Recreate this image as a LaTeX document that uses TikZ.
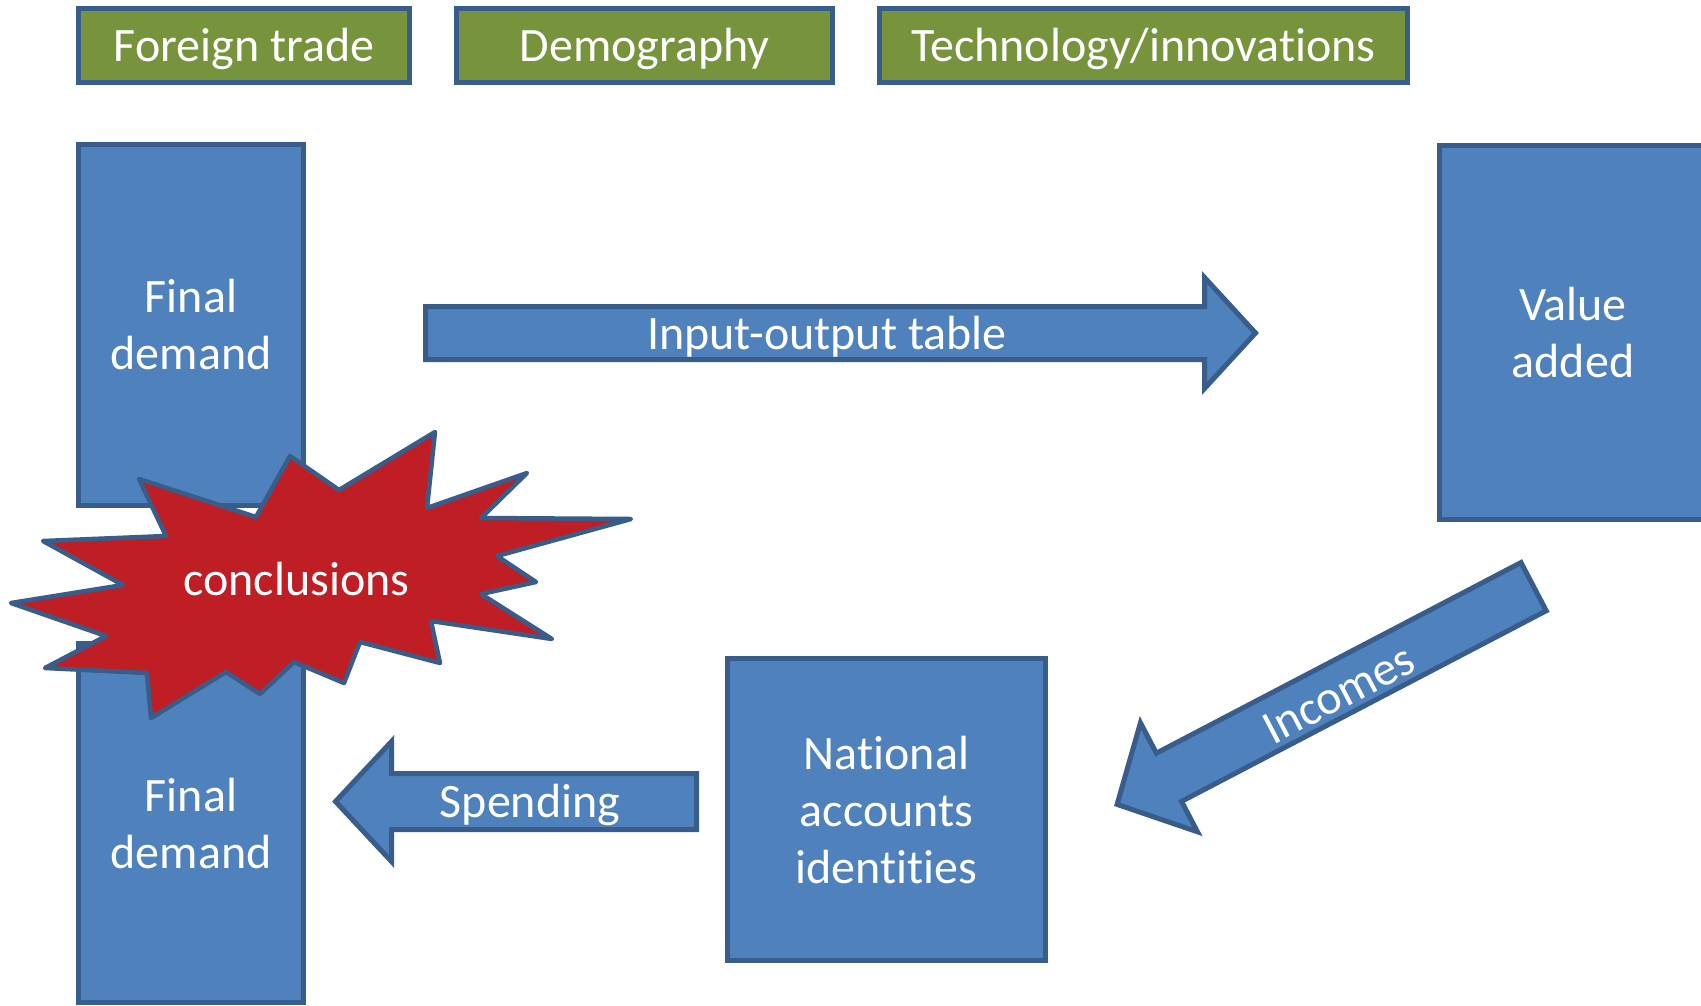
\documentclass[tikz,border=0pt]{standalone}
\usepackage{fontspec}
\setmainfont{Carlito}[Ligatures={NoCommon,NoContextual}]
\definecolor{boxblue}{RGB}{79,129,189}
\definecolor{edgeblue}{RGB}{56,93,138}
\definecolor{boxgreen}{RGB}{119,147,60}
\definecolor{burstred}{RGB}{190,30,36}
\begin{document}
\begin{tikzpicture}[x=1pt, y=-1pt, font=\fontsize{48pt}{57pt}\selectfont,
  tagbox/.style={draw=edgeblue, fill=boxgreen, text=white, line width=5pt,
    text height=32pt, text depth=0pt, inner sep=0pt},
  bluebox/.style={draw=edgeblue, fill=boxblue, text=white, line width=5pt,
    align=center, inner sep=0pt},
  bigarrow/.style={draw=edgeblue, fill=boxblue, line width=5pt, line join=miter},
  arrowtext/.style={text=white, text height=32pt, text depth=0pt, inner sep=0pt},
  burst/.style={draw=edgeblue, fill=burstred, line width=4.5pt, line join=round}]
\useasboundingbox (0,0) rectangle (1701,1005);
\fill[white] (0,0) rectangle (1701,1005);
\clip (0,0) rectangle (1701,1005);

% top tags
\node[tagbox, minimum width=331pt, minimum height=74pt] (trade) at (244,45.5) {Foreign trade};
\node[tagbox, minimum width=376pt, minimum height=74pt] (demo) at (644.5,45.5) {Demography};
\node[tagbox, minimum width=528pt, minimum height=74pt] (tech) at (1143.5,45.5) {Technology/innovations};

% blue boxes
\node[bluebox, minimum width=225pt, minimum height=361pt] (fd1) at (191,325) {Final\\demand};
\node[bluebox, minimum width=225pt, minimum height=359pt] (fd2) at (191,823) {Final\\demand};
\node[bluebox, minimum width=267pt, minimum height=374pt] (va) at (1573,332.5) {Value\\added};
\node[bluebox, minimum width=318pt, minimum height=302pt] (nai) at (886.5,809.5) {National\\accounts\\identities};

% input-output arrow
\draw[bigarrow] (425.5,306.5) -- (1204.5,306.5) -- (1204.5,277.5) -- (1255.5,333)
  -- (1204.5,388.5) -- (1204.5,359.5) -- (425.5,359.5) -- cycle;
\node[arrowtext] (io) at (827,333) {Input-output table};

% spending arrow
\draw[bigarrow] (696.5,773.5) -- (391.5,773.5) -- (391.5,741.5) -- (335.5,801.5)
  -- (391.5,861.5) -- (391.5,829.5) -- (696.5,829.5) -- cycle;
\node[arrowtext] (spend) at (530,801) {Spending};

% incomes arrow
\begin{scope}[shift={(1114,806)}, rotate=27.6]
  \draw[bigarrow] (473.5,-27.2) -- (62,-27.2) -- (62,-61.5) -- (3.5,0)
    -- (62,61.5) -- (62,27.2) -- (473.5,27.2) -- cycle;
  \node[arrowtext, rotate=27.6] (inc) at (251,4) {Incomes};
\end{scope}

% starburst
\draw[burst] (435,432) -- (427,508) -- (527,473) -- (481,518) -- (631,519)
  -- (497,556) -- (536,582) -- (481,594) -- (552,639) -- (431,621)
  -- (440,663) -- (360,642) -- (344,683) -- (294,662) -- (260,694)
  -- (226,672) -- (151,718) -- (147,673) -- (45,668) -- (106,636)
  -- (11,603) -- (123,585) -- (43,541) -- (166,536) -- (139,479)
  -- (256,517) -- (290,456) -- (339,490) -- cycle;
\node[arrowtext] (concl) at (296.5,579) {conclusions};
\end{tikzpicture}
\end{document}
